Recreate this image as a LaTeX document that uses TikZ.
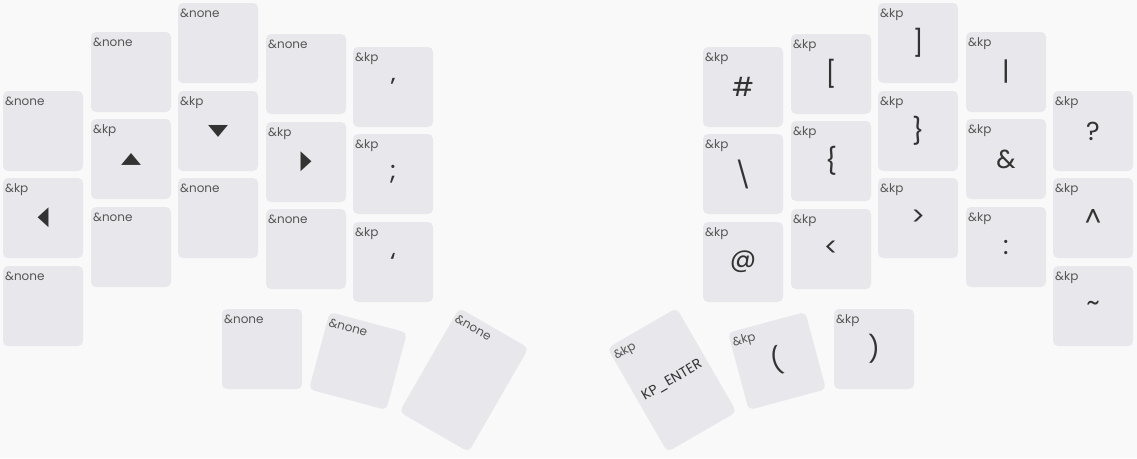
\documentclass[tikz,border=0pt]{standalone}
\usepackage{fontspec}
\usepackage{graphicx}
\setmainfont{Poppins}
\newfontfamily\symfont{DejaVu Sans}
\definecolor{bg}{HTML}{F9F9F9}
\definecolor{keyfill}{HTML}{E8E8EC}
\definecolor{tagcol}{HTML}{555555}
\definecolor{legcol}{HTML}{333333}
% keycap: [height] name, x, y, rotation, tag, legend
\newcommand{\keycap}[7][80pt]{%
  \node[keybox,minimum height=#1,rotate=#5] (#2) at (#3,#4) {#7};
  \node[keytag,rotate=#5] (#2-tag) at (#2.north west) {#6};}
\newcommand{\hor}[1]{{\symfont\scalebox{1}[0.6]{#1}}}
\newcommand{\ver}[1]{{\symfont\scalebox{0.55}[1]{#1}}}

\begin{document}
\begin{tikzpicture}[x=1pt,y=-1pt,
  keybox/.style={rectangle,rounded corners=5pt,fill=keyfill,minimum width=80pt,
    inner sep=0pt,outer sep=0pt,text=legcol,font=\fontsize{26}{30}\selectfont},
  keytag/.style={anchor=north west,inner xsep=2pt,inner ysep=5.5pt,text=tagcol,
    font=\fontsize{12}{14}\selectfont}]
  \fill[bg] (0,0) rectangle (1137,458);
  % left hand
  \keycap{L00}{43}{131}{0}{\&none}{}
  \keycap{L01}{43}{218}{0}{\&kp}{\ver{◀}}
  \keycap{L02}{43}{306}{0}{\&none}{}
  \keycap{L10}{131}{72}{0}{\&none}{}
  \keycap{L11}{131}{159}{0}{\&kp}{\hor{▲}}
  \keycap{L12}{131}{247}{0}{\&none}{}
  \keycap{L20}{218}{43}{0}{\&none}{}
  \keycap{L21}{218}{131}{0}{\&kp}{\hor{▼}}
  \keycap{L22}{218}{218}{0}{\&none}{}
  \keycap{L30}{306}{74}{0}{\&none}{}
  \keycap{L31}{306}{162}{0}{\&kp}{\ver{▶}}
  \keycap{L32}{306}{249}{0}{\&none}{}
  \keycap{L40}{393}{87}{0}{\&kp}{\symbol{"27}}
  \keycap{L41}{393}{174}{0}{\&kp}{;}
  \keycap{L42}{393}{262}{0}{\&kp}{\symbol{"60}}
  % right hand
  \keycap{R50}{743}{87}{0}{\&kp}{\#}
  \keycap{R51}{743}{174}{0}{\&kp}{\textbackslash}
  \keycap{R52}{743}{262}{0}{\&kp}{@}
  \keycap{R60}{831}{74}{0}{\&kp}{[}
  \keycap{R61}{831}{161}{0}{\&kp}{\{}
  \keycap{R62}{831}{249}{0}{\&kp}{<}
  \keycap{R70}{918}{43}{0}{\&kp}{]}
  \keycap{R71}{918}{131}{0}{\&kp}{\}}
  \keycap{R72}{918}{218}{0}{\&kp}{>}
  \keycap{R80}{1006}{72}{0}{\&kp}{|}
  \keycap{R81}{1006}{159}{0}{\&kp}{\&}
  \keycap{R82}{1006}{247}{0}{\&kp}{:}
  \keycap{R90}{1093}{131}{0}{\&kp}{?}
  \keycap{R91}{1093}{218}{0}{\&kp}{\textasciicircum}
  \keycap{R92}{1093}{306}{0}{\&kp}{\textasciitilde}
  % thumbs
  \keycap{LT0}{262}{349}{0}{\&none}{}
  \keycap{LT1}{358}{361}{-15}{\&none}{}
  \keycap[120pt]{LT2}{464}{380}{-30}{\&none}{}
  \keycap[120pt]{RT0}{672}{380}{30}{\&kp}{\fontsize{14}{16}\selectfont KP\_ENTER}
  \keycap{RT1}{777}{361}{15}{\&kp}{(}
  \keycap{RT2}{874}{349}{0}{\&kp}{)}
\end{tikzpicture}
\end{document}
